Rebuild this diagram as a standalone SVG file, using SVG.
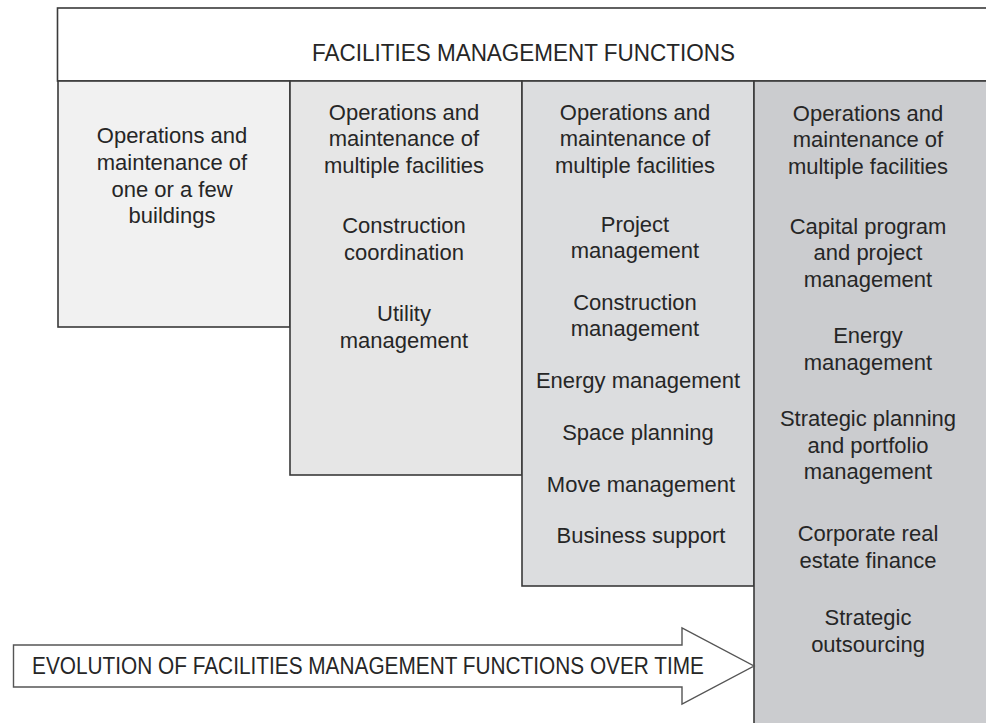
<svg xmlns="http://www.w3.org/2000/svg" width="986" height="723" viewBox="0 0 986 723">
  <style>
    .box { stroke: #3a3a3a; stroke-width: 1.6; }
    .t { font-family: "Liberation Sans", Arial, Helvetica, sans-serif; font-size: 22px; fill: #262626; text-anchor: middle; }
    .cap { font-family: "Liberation Sans", Arial, Helvetica, sans-serif; font-size: 23px; fill: #262626; }
  </style>

  <rect width="986" height="723" fill="#ffffff"/>

  <!-- header -->
  <g id="header">
    <rect class="box" x="57.5" y="8" width="940" height="73" fill="#ffffff"/>
    <text class="cap" x="312" y="61" textLength="423" lengthAdjust="spacingAndGlyphs">FACILITIES MANAGEMENT FUNCTIONS</text>
  </g>

  <!-- stage 1 -->
  <g id="stage1">
    <rect class="box" x="58" y="81" width="232" height="246" fill="#f1f1f1"/>
    <text class="t" x="172" y="143">Operations and</text>
    <text class="t" x="172" y="170">maintenance of</text>
    <text class="t" x="172" y="196.5">one or a few</text>
    <text class="t" x="172" y="223">buildings</text>
  </g>

  <!-- stage 2 -->
  <g id="stage2">
    <rect class="box" x="290" y="81" width="232" height="394" fill="#e6e6e6"/>
    <text class="t" x="404" y="119.5">Operations and</text>
    <text class="t" x="404" y="146">maintenance of</text>
    <text class="t" x="404" y="172.5">multiple facilities</text>
    <text class="t" x="404" y="233">Construction</text>
    <text class="t" x="404" y="259.5">coordination</text>
    <text class="t" x="404" y="321">Utility</text>
    <text class="t" x="404" y="347.5">management</text>
  </g>

  <!-- stage 3 -->
  <g id="stage3">
    <rect class="box" x="522" y="81" width="232" height="505" fill="#dcdddf"/>
    <text class="t" x="635" y="119.5">Operations and</text>
    <text class="t" x="635" y="146">maintenance of</text>
    <text class="t" x="635" y="172.5">multiple facilities</text>
    <text class="t" x="635" y="231.5">Project</text>
    <text class="t" x="635" y="258">management</text>
    <text class="t" x="635" y="309.5">Construction</text>
    <text class="t" x="635" y="336">management</text>
    <text class="t" x="638" y="388">Energy management</text>
    <text class="t" x="638" y="440">Space planning</text>
    <text class="t" x="641" y="492">Move management</text>
    <text class="t" x="641" y="543">Business support</text>
  </g>

  <!-- stage 4 -->
  <g id="stage4">
    <rect class="box" x="754" y="81" width="240" height="650" fill="#cbcccf"/>
    <text class="t" x="868" y="120.5">Operations and</text>
    <text class="t" x="868" y="147">maintenance of</text>
    <text class="t" x="868" y="173.5">multiple facilities</text>
    <text class="t" x="868" y="233.5">Capital program</text>
    <text class="t" x="868" y="260">and project</text>
    <text class="t" x="868" y="286.5">management</text>
    <text class="t" x="868" y="342.5">Energy</text>
    <text class="t" x="868" y="370">management</text>
    <text class="t" x="868" y="426">Strategic planning</text>
    <text class="t" x="868" y="452.5">and portfolio</text>
    <text class="t" x="868" y="479">management</text>
    <text class="t" x="868" y="541">Corporate real</text>
    <text class="t" x="868" y="567.5">estate finance</text>
    <text class="t" x="868" y="625">Strategic</text>
    <text class="t" x="868" y="651.5">outsourcing</text>
  </g>

  <!-- time arrow -->
  <g id="connectors">
    <path d="M13.5,645 L682,645 L682,628 L754,666 L682,704 L682,687 L13.5,687 Z" fill="#ffffff" stroke="#555555" stroke-width="1.4" stroke-linejoin="miter"/>
    <text class="cap" x="32" y="674" textLength="672" lengthAdjust="spacingAndGlyphs">EVOLUTION OF FACILITIES MANAGEMENT FUNCTIONS OVER TIME</text>
  </g>
</svg>
